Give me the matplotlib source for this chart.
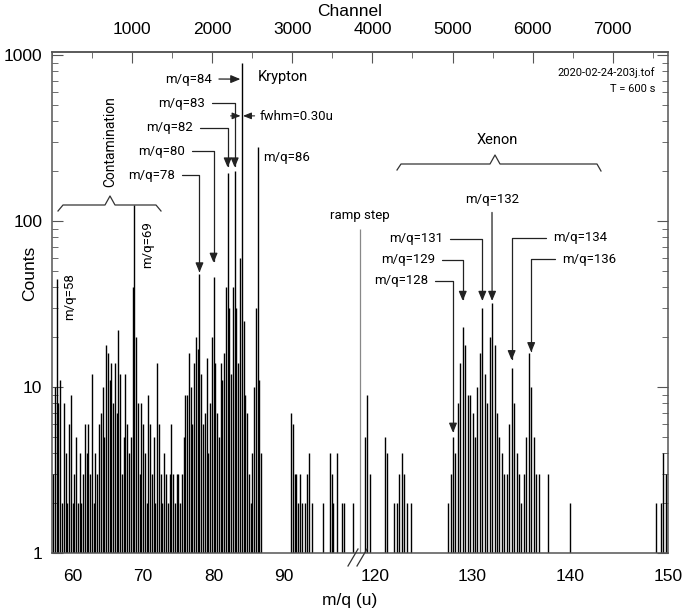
import numpy as np
import matplotlib
matplotlib.use("Agg")
import matplotlib.pyplot as plt
from matplotlib.lines import Line2D
from matplotlib.ticker import MultipleLocator, LogLocator, NullFormatter

plt.rcParams['font.family'] = ['Liberation Sans', 'DejaVu Sans']

W, H = 685, 612

# spectrum, counts per 0.25 u bin, first part (before ramp step)
seg1_start = 57.25
seg1_counts = [3, 10, 45, 8,
    11, 2, 8, 4, 2, 6, 9, 2,
    3, 5, 2, 4, 2, 3, 6, 4,
    6, 3, 12, 2, 4, 3, 6, 7,
    10, 5, 18, 16, 11, 14, 8, 14,
    7, 22, 12, 3, 5, 12, 6, 4,
    5, 40, 125, 20, 8, 3, 8, 6,
    4, 2, 9, 6, 3, 5, 2, 14,
    6, 3, 2, 4, 3, 2, 3, 6,
    3, 2, 3, 3, 2, 3, 5, 9,
    9, 16, 10, 6, 14, 20, 17, 48,
    12, 6, 7, 15, 4, 8, 20, 46,
    14, 7, 5, 14, 11, 16, 40, 196,
    30, 12, 40, 200, 30, 14, 60, 895,
    25, 9, 7, 3, 2, 4, 10, 30,
    279, 11, 4, 0, 0, 1, 0, 0,
    0, 0, 0, 0, 0, 0, 1, 0,
    0, 0, 0, 7, 6, 3, 3, 2,
    3, 2, 0, 2, 3, 4, 0, 2,
    0, 0, 0, 0, 0, 2, 0, 0,
    0, 4, 3, 2, 0, 4, 0, 0,
    2, 2, 0, 0, 0, 0, 2, 0,
    0, 0]

# second part (after ramp step)
seg2_start = 118.5
seg2_counts = [0, 0, 5, 9, 3, 0, 0,
    0, 0, 0, 5, 4, 0, 0, 2,
    2, 3, 4, 3, 2, 0, 2, 0,
    0, 0, 0, 1, 0, 0, 0, 0,
    0, 0, 0, 0, 0, 2, 3, 5,
    4, 8, 14, 23, 18, 9, 9, 7,
    5, 10, 16, 30, 12, 8, 20, 32,
    18, 7, 5, 4, 3, 3, 6, 13,
    8, 4, 3, 2, 3, 5, 16, 10,
    5, 3, 3, 0, 0, 0, 3, 0,
    0, 0, 0, 0, 0, 0, 0, 2,
    0, 0, 0, 0, 0, 0, 0, 0,
    0, 0, 0, 0, 0, 0, 0, 0,
    0, 0, 0, 1, 0, 0, 0, 0,
    0, 0, 0, 0, 0, 0, 0, 0,
    0, 0, 2, 0, 2, 4, 3, 2]
bin_width = 0.25

mq_ticks = [60, 70, 80, 90, 120, 130, 140, 150]
channel_ticks = [1000, 2000, 3000, 4000, 5000, 6000, 7000]
ramp_step_channel = 3843


def channel(mq):
    # m/q -> channel, two linear pieces around the ramp step
    mq = np.asarray(mq, dtype=float)
    return np.where(mq < 110, 257 + (mq - 60) * 88.0, 4030 + (mq - 120) * 122.0)


def fxy(x, y):
    return (x / W, 1 - y / H)


fig = plt.figure(figsize=(W / 100, H / 100), dpi=100)
ax = fig.add_axes([52 / W, 1 - 553 / H, (668 - 52) / W, (553 - 52) / H])

for start, counts in [(seg1_start, seg1_counts), (seg2_start, seg2_counts)]:
    mq = start + bin_width * np.arange(len(counts))
    c = np.array(counts, dtype=float)
    ch = channel(mq)
    ax.vlines(ch[c > 0], 1, c[c > 0], color='black', lw=1.0)

ax.vlines(ramp_step_channel, 1, 90, color='#888888', lw=0.9)

ax.set_yscale('log')
ax.set_ylim(1, 1043)
ax.set_xlim(0, 7690)

ax.set_yticks([1, 10, 100, 1000], ['1', '10', '100', '1000'])
ax.yaxis.set_minor_locator(LogLocator(base=10, subs=np.arange(2, 10)))
ax.yaxis.set_minor_formatter(NullFormatter())
ax.tick_params(axis='y', which='both', direction='in', left=True, right=True,
               labelsize=12.5, pad=7, color='#555555')
ax.tick_params(axis='y', which='major', length=8)
ax.tick_params(axis='y', which='minor', length=4)

ax.set_xticks(channel(mq_ticks), [str(m) for m in mq_ticks])
ax.tick_params(axis='x', which='both', bottom=False, top=False, labelsize=12.5, pad=8)

top = ax.secondary_xaxis('top')
top.set_xticks(channel_ticks)
top.xaxis.set_minor_locator(MultipleLocator(500))
top.tick_params(axis='x', which='both', direction='in', labelsize=12.5, pad=11, color='#555555')
top.tick_params(axis='x', which='major', length=8)
top.tick_params(axis='x', which='minor', length=4)

for sp in list(ax.spines.values()) + list(top.spines.values()):
    sp.set_color('#555555')
    sp.set_linewidth(1.1)

fig.text(*fxy(350, 11), 'Channel', ha='center', va='center', fontsize=12.5)
fig.text(*fxy(350, 600), 'm/q (u)', ha='center', va='center', fontsize=12.5)
fig.text(*fxy(30, 273), 'Counts', ha='center', va='center', rotation=90, fontsize=12.5)

# axis break marks
for bx in [353, 362]:
    fig.add_artist(Line2D([(bx - 5) / W, (bx + 5) / W], [1 - 566 / H, 1 - 549 / H],
                          color='#333333', lw=0.9))

ann_font = dict(family=['Roboto', 'DejaVu Sans'], fontsize=9.5)
arrow = dict(arrowstyle='-|>,head_length=0.6,head_width=0.25', color='#222222', lw=0.9,
             shrinkA=3, shrinkB=0)

# elbow arrows: text, m/q of peak, arrow tip counts, text position, alignment
elbow_labels = [
    ('m/q=83', 83, 210, (205, 103), 'right'),
    ('m/q=82', 82, 210, (193, 128), 'right'),
    ('m/q=80', 80, 56, (185, 151), 'right'),
    ('m/q=78', 78, 49, (175, 175), 'right'),
    ('m/q=131', 131, 33, (443, 239), 'right'),
    ('m/q=129', 129, 33, (435, 260), 'right'),
    ('m/q=128', 128, 5.3, (428, 281), 'right'),
    ('m/q=134', 134, 14.5, (553, 238), 'left'),
    ('m/q=136', 136, 16.2, (562, 259), 'left'),
]
for txt, mq, tip, pos, ha in elbow_labels:
    ap = dict(arrow, connectionstyle='angle,angleA=0,angleB=90,rad=0',
              relpos=(1, 0.5) if ha == 'right' else (0, 0.5))
    ax.annotate(txt, xy=(float(channel(mq)), tip), xycoords='data',
                xytext=fxy(*pos), textcoords='figure fraction',
                ha=ha, va='center', arrowprops=ap, **ann_font)

ax.annotate('m/q=84', xy=(float(channel(83.8)), 716), xytext=fxy(212, 79),
            textcoords='figure fraction', ha='right', va='center',
            arrowprops=dict(arrow, relpos=(1, 0.5)), **ann_font)
ax.annotate('m/q=132', xy=(float(channel(132)), 33), xytext=fxy(492, 199),
            textcoords='figure fraction', ha='center', va='center',
            arrowprops=dict(arrow, relpos=(0.5, 0)), **ann_font)

# fwhm arrows
small = dict(arrowstyle='-|>,head_length=0.5,head_width=0.2', color='#222222', lw=0.8,
             shrinkA=0, shrinkB=0)
ch84 = float(channel(84))
ax.annotate('', xy=(ch84 - 15, 430), xytext=(ch84 - 140, 430), arrowprops=small)
ax.annotate('', xy=(ch84 + 15, 430), xytext=(ch84 + 160, 430), arrowprops=small)
fig.text(*fxy(260, 116), 'fwhm=0.30u', ha='left', va='center', **ann_font)

fig.text(*fxy(263, 157), 'm/q=86', ha='left', va='center', **ann_font)
fig.text(*fxy(258, 77), 'Krypton', ha='left', va='center', family=['Roboto'], fontsize=10.5)
fig.text(*fxy(497, 140), 'Xenon', ha='center', va='center', family=['Roboto'], fontsize=10.5)
fig.text(*fxy(110, 142), 'Contamination', ha='center', va='center', rotation=90,
         family=['Roboto'], fontsize=10)
fig.text(*fxy(70, 297), 'm/q=58', ha='center', va='center', rotation=90, **ann_font)
fig.text(*fxy(148, 245), 'm/q=69', ha='center', va='center', rotation=90, **ann_font)
fig.text(*fxy(360, 215), 'ramp step', ha='center', va='center', **ann_font)
fig.text(*fxy(655, 73), '2020-02-24-203j.tof', ha='right', va='center',
         family=['Roboto'], fontsize=8)
fig.text(*fxy(655, 89), 'T = 600 s', ha='right', va='center', family=['Roboto'], fontsize=8)

# braces
braces = [
    [(58, 211), (63, 205), (105, 205), (110, 196), (115, 205), (156, 205), (161, 211)],
    [(397, 170), (401, 164), (490, 164), (495, 155), (500, 164), (597, 164), (601, 171)],
]
for pts in braces:
    xs = [p[0] / W for p in pts]
    ys = [1 - p[1] / H for p in pts]
    fig.add_artist(Line2D(xs, ys, color='#333333', lw=0.9))

fig.savefig('out.png', dpi=100)
